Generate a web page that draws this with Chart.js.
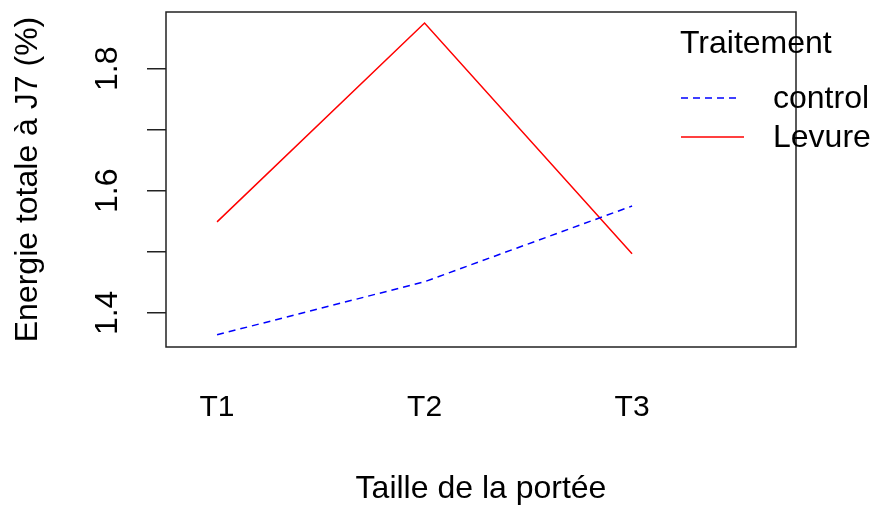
<!DOCTYPE html>
<html>
<head>
<meta charset="utf-8">
<script src="https://cdn.jsdelivr.net/npm/chart.js@4"></script>
<style>
  html, body { margin: 0; padding: 0; background: #fff; }
  #wrap { width: 875px; height: 509px; }
</style>
</head>
<body>
<div id="wrap"><canvas id="chart" width="875" height="509"></canvas></div>
<script>
// data
const categories = ['T1', 'T2', 'T3'];
const controlValues = [1.364, 1.451, 1.575];
const levureValues = [1.549, 1.875, 1.497];
const yTicks = [1.4, 1.5, 1.6, 1.7, 1.8];
const yLabelled = [1.4, 1.6, 1.8];
const legendTitle = 'Traitement';
const seriesNames = ['control', 'Levure'];

const FONT = '"Liberation Sans", Arial, sans-serif';
const DASH = [7, 5];

const toPoints = vals => vals.map((v, i) => ({ x: i + 1, y: v }));

// box around the plot region + R style legend
const boxAndLegend = {
  id: 'boxAndLegend',
  afterDraw(chart) {
    const { ctx, chartArea: a } = chart;
    ctx.save();
    ctx.strokeStyle = '#222';
    ctx.lineWidth = 1.5;
    ctx.strokeRect(a.left, a.top, a.right - a.left, a.bottom - a.top);

    ctx.fillStyle = '#000';
    ctx.font = '32px ' + FONT;
    ctx.textBaseline = 'middle';
    ctx.textAlign = 'left';
    ctx.fillText(legendTitle, 680, 44);

    const rows = [
      { y: 98, color: '#0000ff', dash: DASH, x2: 737 },
      { y: 137, color: '#ff0000', dash: [], x2: 744 }
    ];
    rows.forEach((r, i) => {
      ctx.beginPath();
      ctx.setLineDash(r.dash);
      ctx.strokeStyle = r.color;
      ctx.lineWidth = 1.4;
      ctx.moveTo(681, r.y);
      ctx.lineTo(r.x2, r.y);
      ctx.stroke();
      ctx.setLineDash([]);
      ctx.fillText(seriesNames[i], 773, r.y + 1);
    });
    ctx.restore();
  }
};

new Chart(document.getElementById('chart'), {
  type: 'line',
  data: {
    datasets: [
      {
        label: seriesNames[0],
        data: toPoints(controlValues),
        borderColor: '#0000ff',
        borderWidth: 1.5,
        borderDash: DASH,
        pointRadius: 0,
        fill: false,
        tension: 0
      },
      {
        label: seriesNames[1],
        data: toPoints(levureValues),
        borderColor: '#ff0000',
        borderWidth: 1.5,
        pointRadius: 0,
        fill: false,
        tension: 0
      }
    ]
  },
  options: {
    responsive: false,
    animation: false,
    layout: { padding: { top: 12, right: 79, left: 0, bottom: 0 } },
    plugins: { legend: { display: false }, tooltip: { enabled: false } },
    scales: {
      x: {
        type: 'linear',
        min: 0.754,
        max: 3.79,
        afterBuildTicks: s => { s.ticks = categories.map((c, i) => ({ value: i + 1 })); },
        afterFit: s => { s.height = 162; s.paddingLeft = 0; s.paddingRight = 0; },
        grid: { display: false },
        border: { display: false },
        ticks: {
          color: '#000',
          font: { family: FONT, size: 30 },
          padding: 35,
          maxRotation: 0,
          callback: v => categories[Math.round(v) - 1] || ''
        },
        title: {
          display: true,
          text: 'Taille de la portée',
          color: '#000',
          font: { family: FONT, size: 32 },
          padding: { top: 0, bottom: 1 }
        }
      },
      y: {
        min: 1.344,
        max: 1.893,
        afterBuildTicks: s => { s.ticks = yTicks.map(v => ({ value: v })); },
        afterFit: s => { s.width = 166; s.paddingTop = 0; s.paddingBottom = 0; },
        grid: {
          drawOnChartArea: false,
          drawTicks: true,
          tickLength: 19,
          tickColor: '#222',
          lineWidth: 1.5
        },
        border: { display: false },
        ticks: {
          color: '#000',
          font: { family: FONT, size: 32 },
          minRotation: 90,
          maxRotation: 90,
          crossAlign: 'center',
          padding: 17,
          callback: v => yLabelled.some(t => Math.abs(t - v) < 1e-6) ? v.toFixed(1) : ''
        },
        title: {
          display: true,
          text: 'Energie totale à J7 (%)',
          color: '#000',
          font: { family: FONT, size: 32 },
          padding: { top: 9, bottom: 0 }
        }
      }
    }
  },
  plugins: [boxAndLegend]
});
</script>
</body>
</html>
